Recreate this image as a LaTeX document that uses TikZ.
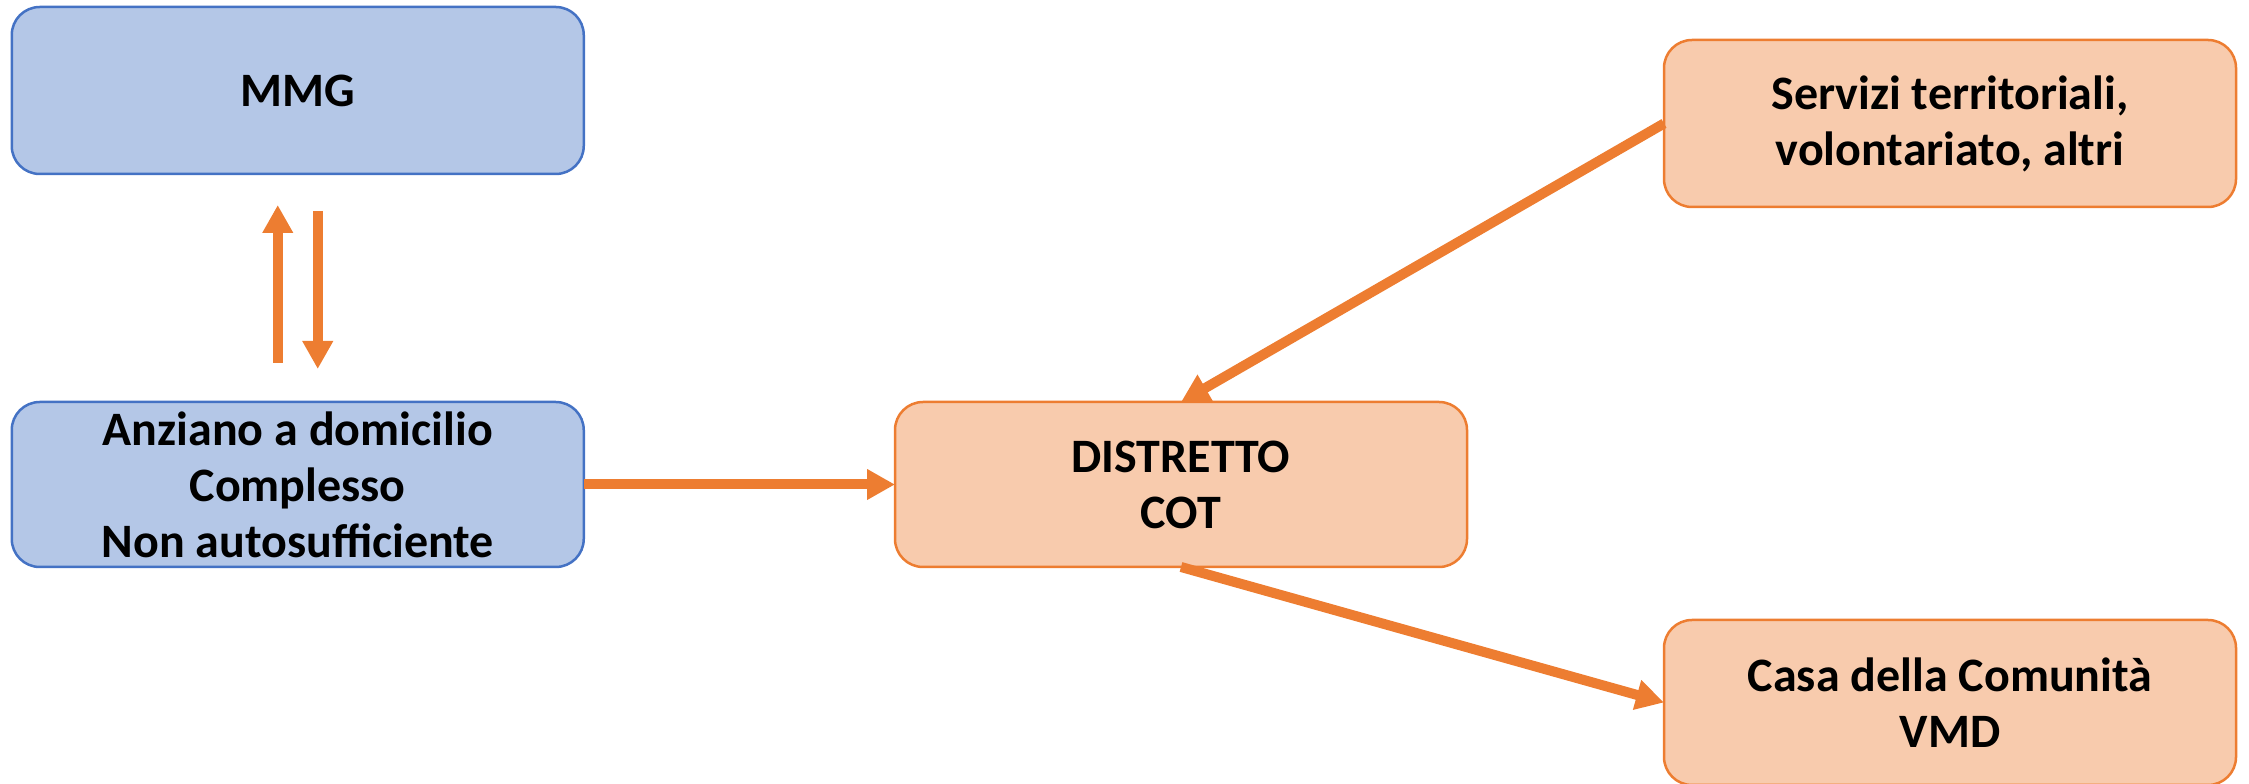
\documentclass[tikz,border=0pt]{standalone}
\usepackage{fontspec}
\setmainfont{Carlito}
\usetikzlibrary{arrows.meta,calc}
\definecolor{bluefill}{HTML}{B4C7E7}
\definecolor{blueline}{HTML}{4472C4}
\definecolor{orfill}{HTML}{F8CBAD}
\definecolor{orline}{HTML}{ED7D31}
\tikzset{
  box/.style={rounded corners=28pt, line width=2.5pt, align=center,
    font=\fontsize{48}{56}\selectfont\bfseries, inner sep=0pt, outer sep=0pt},
  bluebox/.style={box, fill=bluefill, draw=blueline},
  orbox/.style={box, fill=orfill, draw=orline},
  arr/.style={draw=orline, line width=10pt, -{Triangle[width=29pt,length=28pt]}}
}
\begin{document}
\begin{tikzpicture}[x=1pt,y=1pt]
\useasboundingbox (0,0) rectangle (2249,784);
\node[bluebox, minimum width=572pt, minimum height=167pt] (mmg) at (297.75,693.5) {MMG};
\node[bluebox, minimum width=572pt, minimum height=165pt] (anz) at (297.75,299.5) {Anziano a domicilio\\Complesso\\Non autosufficiente};
\node[orbox, minimum width=572pt, minimum height=165pt] (dist) at (1181,299.5) {DISTRETTO\\COT};
\node[orbox, minimum width=572pt, minimum height=167pt] (serv) at (1950,660.5) {Servizi territoriali,\\volontariato, altri};
\node[orbox, minimum width=572pt, minimum height=165pt] (casa) at (1950,81.5) {Casa della Comunità\\VMD};
\draw[arr] ($(anz.north)+(-20,39)$) -- ($(mmg.south)+(-20,-31)$);
\draw[arr] ($(mmg.south)+(20,-37)$) -- ($(anz.north)+(20,33)$);
\draw[arr] (anz.east) -- (dist.west);
\draw[arr] (serv.west) -- (dist.north);
\draw[arr] (dist.south) -- (casa.west);
\end{tikzpicture}
\end{document}
